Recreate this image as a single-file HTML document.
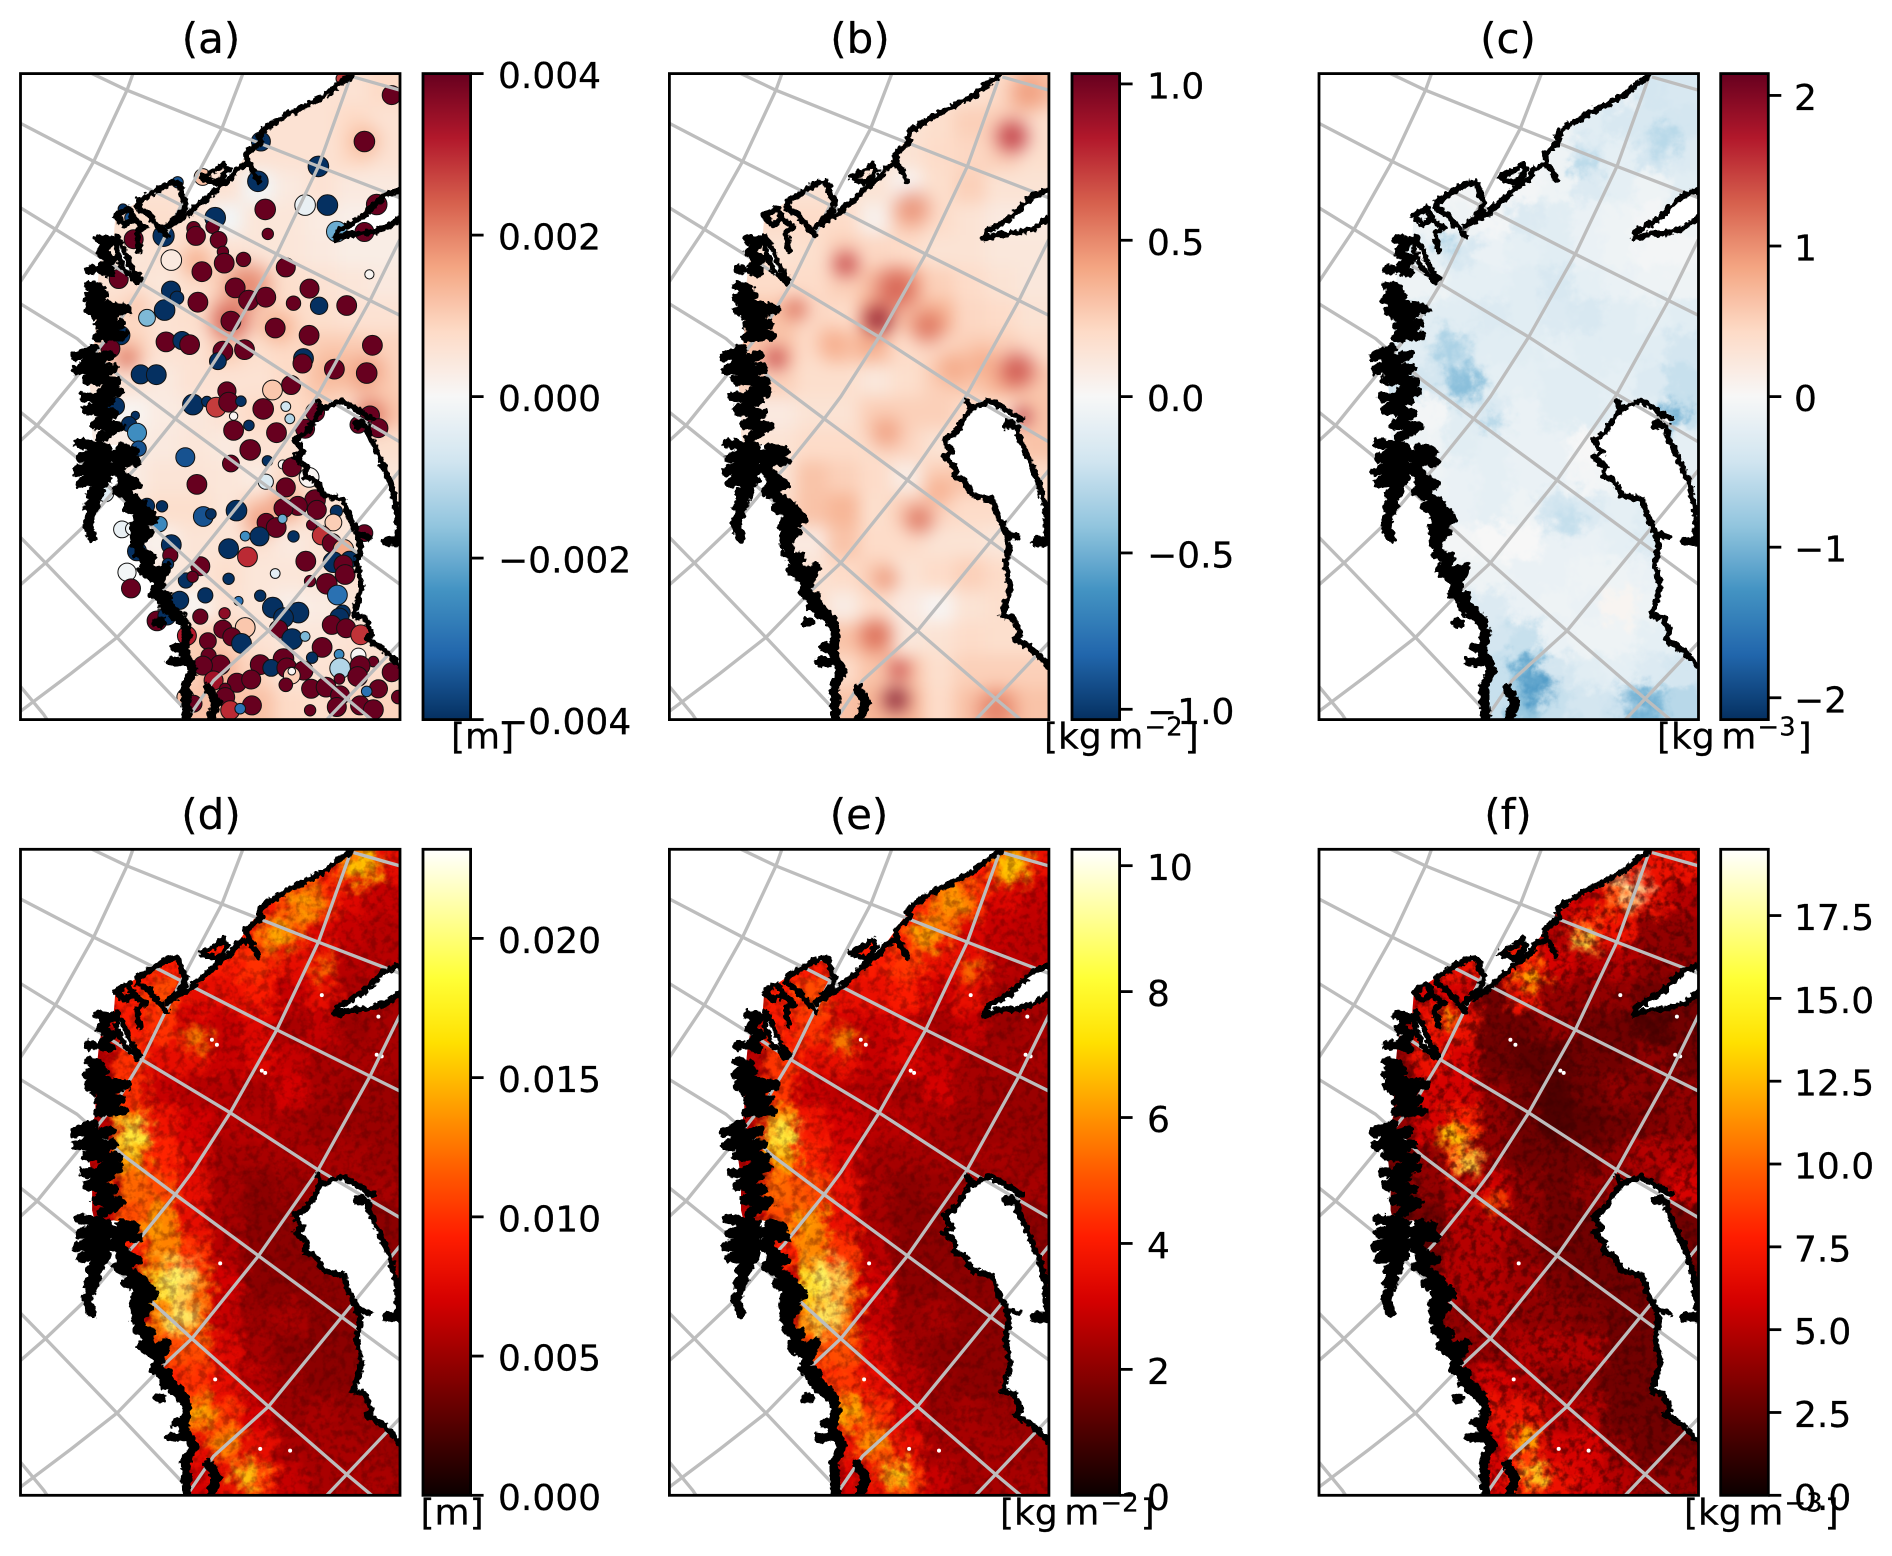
<!DOCTYPE html>
<html lang="en">
<head>
<meta charset="utf-8">
<title>Six-panel map of Norway fields</title>
<style>
html,body{margin:0;padding:0;background:#fff;}
svg{display:block;font-family:"DejaVu Sans","Liberation Sans",sans-serif;fill:#000;}
text{stroke:#000;stroke-width:.25;}
</style>
</head>
<body>
<svg id="figure" xmlns="http://www.w3.org/2000/svg" width="1892" height="1556" viewBox="0 0 1892 1556">
<defs>
<filter id="smooth" filterUnits="userSpaceOnUse" x="0" y="0" width="1892" height="1556" color-interpolation-filters="sRGB"><feGaussianBlur stdDeviation="8"/></filter>
<filter id="mottle" filterUnits="userSpaceOnUse" x="0" y="0" width="1892" height="1556" color-interpolation-filters="sRGB">
<feGaussianBlur stdDeviation="4.5" result="b"/>
<feTurbulence type="fractalNoise" baseFrequency="0.08" numOctaves="4" seed="4" result="n"/>
<feDisplacementMap in="b" in2="n" scale="30" xChannelSelector="R" yChannelSelector="G"/>
</filter>
<filter id="speckle" filterUnits="userSpaceOnUse" x="0" y="0" width="1892" height="1556" color-interpolation-filters="sRGB">
<feTurbulence type="fractalNoise" baseFrequency="0.13" numOctaves="3" seed="9"/>
<feColorMatrix type="matrix" values="0 0 0 0 0.25  0 0 0 0 0  0 0 0 0 0  3.6 0 0 0 -1.6"/>
</filter>
<filter id="rough" filterUnits="userSpaceOnUse" x="0" y="0" width="1892" height="1556">
<feTurbulence type="fractalNoise" baseFrequency="0.2" numOctaves="2" seed="2" result="n"/>
<feDisplacementMap in="SourceGraphic" in2="n" scale="7" xChannelSelector="R" yChannelSelector="G"/>
</filter>
</defs>
</svg>
<script>
// ---------- colormap stops ----------
const rdbuStops = ['#053061','#2166ac','#4393c3','#92c5de','#d1e5f0','#f7f7f7','#fddbc7','#f4a582','#d6604d','#b2182b','#67001f'];
const hotStops = ['#0b0000','#4e0000','#900000','#d40000','#ff1d00','#ff5a00','#ff9d00','#ffe000','#ffff36','#ffff9b','#ffffff'];

// ---------- panel (a): background field, 1e-3 m (rows north to south, columns west to east) ----------
const fieldA = [
[.6,.6,.6,.6,.6,.6,.6,.6,.6,.6,.6,.8],
[.6,.6,.6,.6,.6,.6,.6,.6,.6,.6,.8,.6],
[.6,.6,.6,.6,.6,.6,.6,.6,.6,.6,.8,.6],
[.6,.6,.6,.6,.6,.6,.6,-.1,.4,.6,.4,.4],
[.7,.7,.7,.7,.7,.6,-.1,.5,.5,.35,.25,.3],
[.5,.5,.5,.5,.6,.8,.6,.5,.5,.4,.3,.3],
[.6,.6,.6,.6,.5,.7,.9,.9,.7,.6,.5,.4],
[.8,.8,.8,.8,.6,.7,1.1,.9,.8,.7,.6,.6],
[1.0,1.0,1.0,1.0,.6,.6,1.0,.7,.8,1.0,1.0,.9],
[.6,.6,.6,.6,.4,.6,.6,.6,.8,1.1,1.0,.9],
[.1,.1,.1,.1,.35,.45,.6,.8,.8,.9,.7,1.1],
[.35,.35,.35,.35,.4,.5,.4,.6,.6,.4,.5,.7],
[.35,.35,.35,.35,.55,.55,.5,.35,.8,.7,.5,.5],
[.5,.5,.5,.5,.7,.7,.5,.9,.9,.6,.5,.5],
[.25,.25,.25,.25,.2,.55,.55,.6,.4,.55,.5,.5],
[.4,.4,.4,.4,.4,.5,.7,.5,.5,.55,.6,.6],
[.4,.4,.4,.4,.4,.1,.6,.5,.25,.35,.5,.5],
[1.0,1.0,1.0,1.0,1.0,1.0,1.0,.6,.5,.5,.6,.6],
[1.0,1.0,1.0,1.0,1.0,.9,1.0,.9,.5,.6,.7,.7],
[1.1,1.1,1.1,1.1,1.1,1.2,1.2,1.2,.8,.7,.9,.9]
];
const hotEastA = [630,680,530,1040,940,1033,775,1050,790,720,590,1100,350,320];
const hotSouthA = [745,640,570,905,890,205,765,1030,1300,1350,1800,950,700,860];
const hotValueA = [2.6,2.1,1.6,1.8,1.4,1.4,1.6,2.4,1.8,1.8,1.8,1.1,1.2,2.4];
const hotSpreadA = [60,70,45,60,60,50,50,50,50,50,50,45,35,35];
const ticksA = [4,2,0,-2,-4];
const tickLabelsA = ['0.004','0.002','0.000','\u22120.002','\u22120.004'];

// ---------- panel (a): station markers (map easting, map southing, size, value 1e-3 m) ----------
const stationEast = [965,1115,1033,722,895,547,713,472,308,855,922,735,1070,330,585,520,577,527,743,950,1033,340,430,595,608,453,670,612,797,545,1048,295,645,868,452,470,685,737,533,820,897,980,433,380,632,765,867,300,437,485,508,1057,608,673,593,850,847,943,1040,361,408,270,620,757,813,
285,345,326,350,355,518,560,588,625,662,729,797,640,809,686,640,769,885,855,1050,1015,1075,690,495,742,632,788,815,867,737,530,797,255,885,833,790,890,425,380,649,549,572,949,940,738,768,787,418,305,335,875,905,1033,675,718,820,935,625,350,453,450,682,970,857,940,988,970,975,320,540,443,497,517,765,625,870,920,332,952,478,555,655,720,758,835,968,790,958,613,540,935,410,440,978,675,608,635,775,1022,664,816,855,563,906,500,957,876,1015,565,790,1060,960,1020,600,548,720,753,800,850,1115,1013,815,815,580,650,693,958,797,873,918,1075,1040,960,615,615,695,495,630,520,870,950,1020,1060,1135,660];
const stationSouth = [15,65,205,205,280,312,325,328,408,397,397,410,395,435,435,467,462,490,484,477,478,500,490,502,538,563,561,572,585,598,606,620,647,649,655,677,684,675,690,693,701,700,714,737,747,768,790,790,810,806,818,820,838,833,868,860,875,892,904,908,909,830,958,955,940,
1004,1032,1058,1084,1132,999,990,1007,992,989,1012,1005,1034,1042,1062,1077,1084,1022,1072,1032,1060,1070,1136,1158,1169,1177,1180,1188,1219,1232,1240,1249,1267,1287,1305,1312,1317,1306,1305,1319,1337,1329,1321,1355,1355,1370,1344,1360,1376,1374,1362,1394,1387,1396,1397,1397,1417,1434,1442,1422,1454,1459,1437,1472,1475,1467,1482,1512,1505,1487,1480,1530,1519,1509,1525,1532,1540,1554,1574,1590,1575,1592,1576,1612,1627,1627,1642,1642,1629,1639,1664,1652,1637,1674,1672,1677,1700,1677,1694,1720,1707,1699,1713,1732,1697,1753,1763,1757,1757,1767,1775,1795,1787,1785,1787,1784,1794,1794,1802,1807,1820,1817,1804,1832,1839,1829,1827,1845,1857,1852,1857,1865,1877,1857,1882,1907,1882,1922,1902,1922,1912,1907,1920,1882,1917];
const stationSize = [15,25,27,25,27,22,27,15,13,27,27,27,27,15,27,18,18,25,15,27,25,25,28,22,15,27,19,26,25,26,12,25,26,25,25,18,26,26,26,19,23,26,27,22,26,26,26,25,26,24,26,26,26,26,22,26,25,26,27,25,26,25,24,26,25,
24,11,20,25,20,27,14,26,26,14,27,13,11,13,14,26,26,25,25,25,22,25,27,25,14,22,12,25,26,20,26,25,22,27,25,25,25,15,20,27,26,14,16,22,24,26,12,20,22,17,14,25,22,13,25,15,25,26,25,26,20,26,27,26,27,22,25,26,24,25,15,20,15,13,15,15,27,25,26,24,20,12,15,27,27,20,26,25,15,20,25,26,24,25,26,24,24,24,26,26,27,13,22,26,25,13,15,20,20,27,14,27,26,26,25,26,22,26,25,25,26,22,10,25,25,25,14,18,25,26,24,14,25,15,25,25,22,25,22,15,25,25,26,18,14];
const stationValue = [2.8,4,4,-4,-4,1.2,-4,-3.5,-4,-.3,-4,4,4,-3.5,-4,4,4,4,4,-2,4,4,-4,4,4,.4,4,4,4,4,.1,4,4,4,-4,-4,4,4,4,4,-4,4,-4,-1.8,4,4,4,-4,4,-4,4,4,4,4,-4,-4,4,4,4,-4,-4,4,4,1.1,4,
-4,-4,-4,-2.5,-3.5,-4,-4,2.8,4,-4,4,-.8,.1,-1.2,-4,4,4,4,4,4,4,4,4,-3.5,-4,4,.1,4,.1,-.6,4,4,-.5,4,4,4,4,-4,-4,-4,-3.5,-4,-4,1,4,4,-2,-2.6,-.3,-.2,4,2.9,4,-2.5,-4,-4,4,-4,-4,-4,4,3,1.5,4,-4,-4,4,4,-.1,4,-4,-4,4,-.4,-4,4,4,4,-3,-4,-4,-3,-4,-4,-4,-4,-4,-4,3.6,4,4,4,-4,4,1.1,4,4,4,2.9,-4,-4,-1.8,4,4,3.2,-2.6,-4,.05,4,4,4,-1.2,4,4,4,4,-4,4,4,4,4,1,.1,3.4,4,4,4,4,4,4,4,-3,4,4,4,4,1.3,3,4,4,4,4,4,4,-3];

// ---------- panel (b): field, kg m-2 ----------
const fieldB = [
[.15,.15,.15,.15,.15,.15,.15,.15,.15,.15,.2,.3],
[.15,.15,.15,.15,.15,.15,.15,.15,.18,.25,.25,.18],
[.15,.15,.15,.15,.15,.15,.15,.15,.2,.22,.25,.18],
[.15,.15,.15,.15,.15,.15,.15,.02,.18,.25,.15,.15],
[.2,.2,.2,.2,.2,.2,.05,.25,.2,.15,.1,.1],
[.15,.15,.15,.15,.18,.25,.22,.2,.15,.15,.12,.12],
[.2,.2,.2,.2,.2,.25,.3,.35,.25,.2,.15,.12],
[.3,.3,.3,.3,.22,.2,.4,.3,.35,.22,.2,.15],
[.3,.3,.3,.3,.2,.28,.3,.2,.22,.25,.25,.2],
[.25,.25,.25,.25,.18,.18,.12,.18,.25,.28,.35,.28],
[.1,.1,.1,.1,.15,.15,.25,.25,.25,.2,.2,.3],
[.15,.15,.15,.15,.2,.2,.18,.22,.15,.15,.2,.3],
[.15,.15,.15,.15,.3,.25,.2,.08,.25,.3,.2,.2],
[.2,.2,.2,.2,.3,.35,.18,.25,.22,.2,.2,.2],
[.1,.1,.1,.1,.1,.3,.2,.2,.15,.15,.12,.12],
[.15,.15,.15,.15,.15,.2,.25,.15,.2,.25,.2,.2],
[.2,.2,.2,.2,.2,.08,.2,.1,.02,.15,.18,.18],
[.3,.3,.3,.3,.3,.3,.35,.12,.15,.2,.18,.18],
[.2,.2,.2,.2,.2,.2,.3,.3,.18,.25,.25,.25],
[.3,.3,.3,.3,.3,.3,.35,.35,.2,.3,.35,.3]
];
const hotEastB = [1030,1075,730,530,680,625,775,380,490,600,1045,850,940,650,750,810,650,620,690,680,980,320,1060];
const hotSouthB = [190,60,405,575,650,745,765,710,815,815,895,890,870,1085,1345,1260,1525,1695,1800,1890,1920,860,1035];
const hotValueB = [.8,.45,.5,.75,.65,.95,.6,.62,.4,.42,.7,.42,.4,.45,.6,.4,.48,.62,.75,1.0,.55,.75,.85];
const hotSpreadB = [50,60,55,40,65,45,50,35,50,42,55,50,50,50,45,45,38,50,32,40,60,35,28];
const ticksB = [1,.5,0,-.5,-1];
const tickLabelsB = ['1.0','0.5','0.0','\u22120.5','\u22121.0'];

// ---------- panel (c): field, kg m-3 ----------
const fieldC = [
[-.15,-.15,-.15,-.15,-.15,-.15,-.15,-.15,-.15,-.15,-.4,-.35],
[-.1,-.1,-.1,-.1,-.1,-.1,-.1,-.1,-.25,-.35,-.35,-.4],
[-.1,-.1,-.1,-.1,-.1,-.1,-.1,-.1,-.35,-.2,-.4,-.3],
[-.05,-.05,-.05,-.05,-.05,-.05,-.05,-.1,-.3,-.2,-.1,-.25],
[-.1,-.1,-.1,-.1,-.1,-.05,-.3,-.25,-.15,-.1,-.05,-.1],
[-.2,-.2,-.2,-.2,-.35,-.15,-.2,-.25,-.15,-.1,-.05,-.05],
[-.1,-.1,-.1,-.1,-.2,-.2,-.25,-.35,-.2,-.15,-.1,-.1],
[-.25,-.25,-.25,-.25,-.25,-.3,-.25,-.3,-.35,-.25,-.2,-.25],
[-.25,-.25,-.25,-.25,-.4,-.25,-.25,-.2,-.25,-.25,-.25,-.4],
[-.4,-.4,-.4,-.4,-.6,-.2,-.2,-.25,-.25,-.2,-.3,-.5],
[-.05,-.05,-.05,-.05,-.25,-.3,-.15,-.25,-.25,-.2,-.25,-.5],
[-.1,-.1,-.1,-.1,-.25,-.2,-.15,-.15,0,-.1,-.2,-.2],
[-.1,-.1,-.1,-.1,-.15,-.2,-.15,-.15,-.05,-.1,-.2,-.2],
[-.15,-.15,-.15,-.15,-.15,-.2,-.1,-.4,-.3,-.2,-.25,-.25],
[-.05,-.05,-.05,-.05,-.05,0,0,-.15,-.15,-.2,-.3,-.2],
[-.1,-.1,-.1,-.1,-.1,-.1,-.15,-.15,-.1,-.1,-.15,-.15],
[-.3,-.3,-.3,-.3,-.3,-.3,-.15,-.1,-.15,.05,-.1,-.1],
[-.4,-.4,-.4,-.4,-.4,-.4,-.5,-.15,-.1,-.1,-.2,-.2],
[-.5,-.5,-.5,-.5,-.5,-.5,-.7,-.4,-.25,-.2,-.3,-.4],
[-.5,-.5,-.5,-.5,-.5,-.5,-.8,-.5,-.4,-.45,-.7,-.6]
];
const hotEastC = [440,390,1065,1040,625,650,970,750,800,520,385];
const hotSouthC = [940,830,1034,200,1793,1855,1905,1351,274,1058,510];
const hotValueC = [-.95,-.75,-1.1,-.65,-1.2,-1.3,-1.1,-.55,-.65,-.7,-.7];
const hotSpreadC = [55,55,40,48,38,50,60,45,35,30,30];
const ticksC = [2,1,0,-1,-2];
const tickLabelsC = ['2','1','0','\u22121','\u22122'];

// ---------- panel (d): field, 1e-3 m ----------
const fieldD = [
[9,9,9,9,9,9,9,9,9,9,12,8],
[9,9,9,9,9,9,9,9,9,10,7.5,6.5],
[9,9,9,9,9,9,9,9,11,7.5,6.5,6],
[9,9,9,9,9,9,9,10,8,8,6,6],
[9,9,9,9,11,8,8,9,6.5,8,5.5,5.5],
[6,6,6,9,10,7,6.5,7.5,5.5,6.5,5,5.5],
[6,6,6,10,8,8,6.5,7.5,6.5,5.5,5.5,5.5],
[6,6,6,10,6.5,6,6,5.5,7,5.5,5,5],
[6,6,6,13,8.5,7,6,6,5.5,5,5,5],
[6,6,6,14,9.5,7.5,5.5,5.5,5.5,5.5,5.5,5],
[6,6,6,12,11,8,5.5,4.5,5,5,5,5.5],
[6,6,6,11,13,8,5.5,4.5,4.5,4.5,4.5,4.5],
[6,6,6,9,13,10,6,4.5,4.5,4.5,4.5,4.5],
[6,6,6,6,15,12,7,4.5,4.5,4.5,4.5,4.5],
[6,6,6,6,13,12,6.5,5,5.5,4.5,4.5,4.5],
[10,10,10,10,11,11,7.5,5.5,4.5,4.5,4.5,4.5],
[9,9,9,9,9,10,8,6,5,4.5,4.5,4.5],
[10,10,10,10,10,11,10,7,5,5.5,5,5],
[8,8,8,8,8,8,10,8,5.5,5.5,5.5,5],
[7,7,7,7,7,7,8,10,6.5,5.5,5.5,5.5]
];
const hotEastD = [530,910,340,470,480,680,1030,850,770,540,620,400];
const hotSouthD = [575,360,860,1300,1410,1890,50,160,260,1700,1790,1130];
const hotValueD = [14,13,19,20,20,17,16,14.5,15,15,14,14];
const hotSpreadD = [40,35,50,65,55,45,55,65,55,50,50,40];
const ticksD = [20,15,10,5,0];
const tickLabelsD = ['0.020','0.015','0.010','0.005','0.000'];

// ---------- panel (e): field, kg m-2 ----------
const fieldE = [
[4,4,4,4,4,4,4,4,4,4,5.3,3.6],
[4,4,4,4,4,4,4,4,4,4.5,3.3,2.9],
[4,4,4,4,4,4,4,4,4.9,3.3,2.9,2.7],
[4,4,4,4,4,4,4,4.5,3.6,3.6,2.7,2.7],
[4,4,4,4,4.9,3.6,3.6,4,2.9,3.6,2.4,2.4],
[2.7,2.7,2.7,4,4.5,3.1,2.9,3.3,2.4,2.9,2.2,2.4],
[2.7,2.7,2.7,4.5,3.6,3.6,2.9,3.3,2.9,2.4,2.4,2.4],
[2.7,2.7,2.7,4.5,2.9,2.7,2.7,2.4,3.1,2.4,2.2,2.2],
[2.7,2.7,2.7,5.8,3.8,3.1,2.7,2.7,2.4,2.2,2.2,2.2],
[2.7,2.7,2.7,6.2,4.2,3.3,2.4,2.4,2.4,2.4,2.4,2.2],
[2.7,2.7,2.7,5.3,4.9,3.6,2.4,2,2.2,2.2,2.2,2.4],
[2.7,2.7,2.7,4.9,5.8,3.6,2.4,2,2,2,2,2],
[2.7,2.7,2.7,4,5.8,4.5,2.7,2,2,2,2,2],
[2.7,2.7,2.7,2.7,6.7,5.3,3.1,2,2,2,2,2],
[2.7,2.7,2.7,2.7,5.8,5.3,2.9,2.2,2.4,2,2,2],
[4.5,4.5,4.5,4.5,4.9,4.9,3.3,2.4,2,2,2,2],
[4,4,4,4,4,4.5,3.6,2.7,2.2,2,2,2],
[4.5,4.5,4.5,4.5,4.5,4.9,4.5,3.1,2.2,2.4,2.2,2.2],
[3.6,3.6,3.6,3.6,3.6,3.6,4.5,3.6,2.4,2.4,2.4,2.2],
[3.1,3.1,3.1,3.1,3.1,3.1,3.6,4.5,2.9,2.4,2.4,2.4]
];
const hotEastE = [530,910,340,470,480,680,1030,850,770,540,620,400];
const hotSouthE = [575,360,860,1300,1410,1890,50,160,260,1700,1790,1130];
const hotValueE = [6.2,5.8,8.4,8.8,8.8,7.5,7.1,6.4,6.6,6.6,6.2,6.2];
const hotSpreadE = [40,35,50,65,55,45,55,65,55,50,50,40];
const ticksE = [10,8,6,4,2,0];
const tickLabelsE = ['10','8','6','4','2','0'];

// ---------- panel (f): field, kg m-3 ----------
const fieldF = [
[6,6,6,6,6,6,6,6,6,7,7,7],
[6,6,6,6,6,6,6,6,6,9,7,5],
[6,6,6,6,6,6,6,5,8,7,4,4],
[7,7,7,7,7,7,8,6,5,5,4,4],
[6,6,6,6,6,3,7,4,4,4,3,3],
[4,4,4,7,7,3,3,4,3,3,2,3],
[4,4,4,7,6,3,2.5,2.5,3,3,4,3],
[4,4,4,6,6,4,3,2,3,4,3.5,4],
[4,4,4,6,8,4,3,2,2.5,3,3.5,4],
[3,3,3,4,8,4,3,3,3,4,5,5],
[3,3,3,4,5,6,4,3,4,4,4,6],
[3,3,3,3,5,5,4,3,3,3,3,3],
[3,3,3,3,5,5,4,3,3,3,3,3],
[4,4,4,4,5,5,4.5,3.5,3,3,3,3],
[4,4,4,4,4,5,4,4,3.5,3,3,3],
[4,4,4,4,4,4,5,5,5,3,3,3],
[5,5,5,5,5,6,5,4,4,3,3,3],
[6,6,6,6,6,7,7,5,5,3,3,3],
[6,6,6,6,6,6,8,6,6,4,3,3],
[5,5,5,5,5,6,8,7,6,5,4,4]
];
const hotEastF = [938,797,633,387,410,445,522,621,645];
const hotSouthF = [120,270,388,508,867,941,1068,1778,1883];
const hotValueF = [18,16,13,12.5,14,16,10,13,15];
const hotSpreadF = [55,40,40,30,45,40,30,40,40];
const ticksF = [17.5,15,12.5,10,7.5,5,2.5,0];
const tickLabelsF = ['17.5','15.0','12.5','10.0','7.5','5.0','2.5','0.0'];

// ---------- shared map geography, in map units (easting 0-1140, southing 0-1950) ----------
const landOutline = [[995,0],[1140,0],[1140,350],[1090,370],[1060,400],[1030,430],[990,455],[955,475],[945,500],[990,485],[1050,480],[1100,465],[1140,435],[1140,1410],[1135,1400],[1130,1312],[1110,1232],[1075,1152],[1045,1085],[1045,1065],[1060,1042],[1045,1037],[1000,1007],[965,987],[905,1012],[880,1050],[860,1082],[825,1107],[850,1142],[825,1157],[860,1187],[855,1217],[885,1227],[910,1272],[970,1287],[985,1332],[1010,1382],[1020,1422],[1010,1482],[1025,1552],[1000,1637],[1035,1642],[1055,1692],[1040,1707],[1090,1737],[1140,1790],[1140,1950],[500,1950],[495,1850],[520,1800],[490,1750],[500,1690],[490,1650],[440,1600],[405,1565],[440,1490],[400,1510],[370,1460],[345,1400],[350,1345],[395,1335],[345,1290],[305,1250],[300,1190],[340,1135],[280,1120],[225,1130],[215,1090],[215,1000],[200,880],[225,800],[225,700],[235,600],[250,510],[280,495],[285,430],[325,405],[355,385],[420,345],[478,332],[495,385],[440,462],[505,425],[555,380],[600,338],[650,285],[682,240],[715,190],[800,125],[915,65]];
const islandOutline = [[545,312],[590,290],[610,272],[622,290],[595,330],[560,320]];
const lakeEdge = [[905,1012],[880,1050],[860,1082],[825,1107],[850,1142],[825,1157],[860,1187],[855,1217],[885,1227],[910,1272],[970,1287],[985,1332],[1010,1382],[1020,1422],[1010,1482],[1025,1552],[1000,1637],[1035,1642],[1055,1692],[1040,1707],[1090,1737],[1140,1790]];
const thinCoast = [
[[995,0],[985,12],[960,28],[915,65],[860,95],[800,125],[760,150],[730,170],[715,190],[725,205],[700,225],[680,240],[682,268],[700,295],[715,325]],
[[682,275],[650,285],[632,315],[600,338],[578,358],[555,380],[530,400],[505,425],[470,445],[440,462],[490,412],[495,385],[482,362],[478,332],[455,328],[420,345],[390,365],[355,385],[352,405],[385,425],[405,450],[440,490]],
[[545,312],[590,290],[610,272],[622,290],[595,330],[560,320],[545,312]],
[[285,430],[325,405],[340,440],[310,455],[285,430]],
[[340,440],[375,465],[350,480],[358,535]],
[[1140,350],[1090,370],[1060,400],[1030,430],[990,455],[955,475],[945,500],[990,485],[1050,480],[1100,465],[1140,435]],
[[895,987],[905,1012],[965,987],[1000,1007],[1045,1037],[1060,1042]],
[[1045,1065],[1045,1085],[1075,1152],[1110,1232],[1130,1312],[1135,1400]],
lakeEdge,
[[1020,1390],[1050,1400]]
];
const thickCoast = [
[[235,500],[270,505],[240,540],[275,560],[240,590],[270,600]],
[[205,640],[240,650],[200,680],[250,670],[205,715],[260,700],[320,712]],
[[225,730],[290,720],[235,760],[300,755],[230,795],[310,790]],
[[165,855],[220,830],[200,870],[270,850],[170,895],[280,890],[200,925],[290,930],[240,965],[295,960]],
[[190,975],[270,985],[200,1015],[280,1025],[225,1060],[300,1065],[240,1100]],
[[175,1115],[260,1130],[180,1160],[290,1150],[170,1200],[280,1190],[180,1235],[260,1225],[210,1270],[240,1260],[205,1310],[225,1300],[200,1360],[215,1400]],
[[300,1130],[345,1140],[290,1170],[350,1170]],
[[285,1200],[350,1240],[290,1260],[365,1300],[320,1310],[400,1345],[340,1370],[385,1385],[345,1420]],
[[350,1450],[395,1460],[365,1500],[420,1540],[400,1570],[445,1580],[430,1610],[480,1650]],
[[300,1190],[305,1250],[345,1290],[395,1335],[350,1345],[345,1400],[370,1460],[400,1510],[440,1490],[405,1565],[440,1600],[490,1650],[500,1690],[490,1750],[520,1800],[495,1850],[500,1950]],
[[450,1775],[490,1775]],
[[565,1855],[590,1900],[570,1950]],
[[1100,1412],[1140,1412]],
[[205,592],[216,592]],
[[412,1657],[422,1657]],
[[466,1732],[474,1732]],
[[1012,1060],[1026,1058]]
];
const fjordRing = [[290,490],[310,530],[335,590],[360,620],[350,630],[310,590],[290,540],[285,500],[290,490]];
const meridians = [
[[338,0],[320,50],[220,265],[105,470],[0,628]],
[[668,0],[605,165],[510,345],[440,480],[365,635],[290,760],[165,920],[120,975],[50,1062],[0,1108]],
[[995,0],[895,280],[770,545],[630,795],[515,975],[465,1042],[345,1192],[270,1272],[195,1362],[75,1477],[0,1543]],
[[1140,500],[1050,685],[890,975],[715,1227],[515,1477],[430,1557],[290,1702],[150,1812],[0,1925]],
[[1140,1197],[965,1412],[745,1682],[580,1832],[500,1950]],
[[1140,1717],[980,1887],[920,1950]]
];
const parallels = [
[[1000,10],[1140,50]],
[[215,0],[320,50],[605,165],[895,280],[1140,375]],
[[0,150],[220,265],[430,370],[770,545],[1050,685],[1140,730]],
[[0,405],[105,470],[265,570],[365,635],[630,795],[890,965],[1140,1112]],
[[0,695],[170,800],[310,925],[465,1042],[715,1227],[965,1412],[1140,1542]],
[[0,1022],[50,1062],[160,1152],[345,1321],[515,1477],[745,1682],[980,1887],[1055,1950]],
[[0,1400],[75,1477],[290,1702],[495,1920],[510,1950]],
[[0,1850],[70,1935],[80,1950]]
];
const voidEast = [575,590,725,735,1070,1085,1075,905,1000,585,720,810,600];
const voidSouth = [575,590,668,675,620,625,505,440,450,1600,1810,1815,1250];

// ---------- axes helpers ----------
const MAP_W = 1140, MAP_H = 1950;
const NS = 'http://www.w3.org/2000/svg';
const svg = document.getElementById('figure');
function make(tag, attrs, parent){
  const el = document.createElementNS(NS, tag);
  for(const k in attrs) el.setAttribute(k, attrs[k]);
  parent.appendChild(el);
  return el;
}
function hexRgb(h){return [parseInt(h.substr(1,2),16),parseInt(h.substr(3,2),16),parseInt(h.substr(5,2),16)];}
function colorOf(stops, t){
  t = Math.max(0, Math.min(1, t));
  const p = t*(stops.length-1), i = Math.min(stops.length-2, Math.floor(p)), f = p-i;
  const a = hexRgb(stops[i]), b = hexRgb(stops[i+1]);
  return 'rgb('+a.map((v,j)=>Math.round(v+(b[j]-v)*f)).join(',')+')';
}
function pathOf(points, sx, sy, close){
  return points.map((p,i)=>(i?'L':'M')+sx(p[0]).toFixed(1)+' '+sy(p[1]).toFixed(1)).join('')+(close?'Z':'');
}

const panels = [
 {key:'a',x:20.5,y:73.6,cx:423,title:'(a)',tx:211,field:fieldA,hotE:hotEastA,hotS:hotSouthA,hotV:hotValueA,hotR:hotSpreadA,stops:rdbuStops,vmin:-4.0,vmax:4.0,ticks:ticksA,labels:tickLabelsA,lx:498,unit:'[m]',ux:451,filter:'smooth'},
 {key:'b',x:669.4,y:73.6,cx:1072,title:'(b)',tx:860,field:fieldB,hotE:hotEastB,hotS:hotSouthB,hotV:hotValueB,hotR:hotSpreadB,stops:rdbuStops,vmin:-1.033,vmax:1.033,ticks:ticksB,labels:tickLabelsB,lx:1147,unit:'[kg m',sup:'\u22122',ux:1044,filter:'smooth'},
 {key:'c',x:1319,y:73.6,cx:1720.7,title:'(c)',tx:1508,field:fieldC,hotE:hotEastC,hotS:hotSouthC,hotV:hotValueC,hotR:hotSpreadC,stops:rdbuStops,vmin:-2.145,vmax:2.145,ticks:ticksC,labels:tickLabelsC,lx:1794,unit:'[kg m',sup:'\u22123',ux:1657,filter:'mottle'},
 {key:'d',x:20.5,y:849.3,cx:423,title:'(d)',tx:211,field:fieldD,hotE:hotEastD,hotS:hotSouthD,hotV:hotValueD,hotR:hotSpreadD,stops:hotStops,vmin:0,vmax:23.2,ticks:ticksD,labels:tickLabelsD,lx:498,unit:'[m]',ux:420.5,filter:'mottle',speck:true},
 {key:'e',x:669.4,y:849.3,cx:1072,title:'(e)',tx:859,field:fieldE,hotE:hotEastE,hotS:hotSouthE,hotV:hotValueE,hotR:hotSpreadE,stops:hotStops,vmin:0,vmax:10.26,ticks:ticksE,labels:tickLabelsE,lx:1147,unit:'[kg m',sup:'\u22122',ux:1000,filter:'mottle',speck:true},
 {key:'f',x:1319,y:849.3,cx:1720.7,title:'(f)',tx:1508,field:fieldF,hotE:hotEastF,hotS:hotSouthF,hotV:hotValueF,hotR:hotSpreadF,stops:hotStops,vmin:0,vmax:19.5,ticks:ticksF,labels:tickLabelsF,lx:1794,unit:'[kg m',sup:'\u22123',ux:1684,filter:'mottle',speck:true}
];
const AX_W = 379.5, AX_H = 646, CB_W = 47.6;

panels.forEach(function(p){
  const sx = u => p.x + u/MAP_W*AX_W;
  const sy = v => p.y + v/MAP_H*AX_H;
  const defs = svg.querySelector('defs');
  const axClip = make('clipPath',{id:'ax-'+p.key},defs);
  make('rect',{x:p.x,y:p.y,width:AX_W,height:AX_H},axClip);
  const landClip = make('clipPath',{id:'land-'+p.key},defs);
  make('path',{d:pathOf(landOutline,sx,sy,true)+pathOf(islandOutline,sx,sy,true)},landClip);

  const group = make('g',{},svg);
  
  

  const title = make('text',{x:p.tx,y:p.y-20.5,'font-size':42,'text-anchor':'middle'},group);
  
  
  title.textContent = p.title;

  const mapArea = make('g',{'clip-path':'url(#ax-'+p.key+')'},group);
  
  

  // heatmap, clipped to land
  const landG = make('g',{'clip-path':'url(#land-'+p.key+')'},mapArea);
  
  
  const cellG = make('g',{filter:'url(#'+p.filter+')'},landG);
  
  
  const rows = p.field.length, cols = p.field[0].length;
  p.field.forEach(function(row,r){
    row.forEach(function(v,c){
      const x0 = sx(c*MAP_W/cols), x1 = sx((c+1)*MAP_W/cols);
      const y0 = sy(r*MAP_H/rows), y1 = sy((r+1)*MAP_H/rows);
      const left = c===0 ? x0-40 : x0, right = c===cols-1 ? x1+40 : x1+1;
      const top = r===0 ? y0-40 : y0, bottom = r===rows-1 ? y1+40 : y1+1;
      const cell = make('rect',{x:left.toFixed(1),y:top.toFixed(1),width:(right-left).toFixed(1),height:(bottom-top).toFixed(1),fill:colorOf(p.stops,(v-p.vmin)/(p.vmax-p.vmin)),'shape-rendering':'crispEdges'},cellG);
      
      
    });
  });

  // local maxima of the field
  p.hotE.forEach(function(e,i){
    const col = colorOf(p.stops,(p.hotV[i]-p.vmin)/(p.vmax-p.vmin));
    const gr = make('radialGradient',{id:'hot-'+p.key+'-'+i},defs);
    make('stop',{offset:0,'stop-color':col,'stop-opacity':1},gr);
    make('stop',{offset:.45,'stop-color':col,'stop-opacity':.65},gr);
    make('stop',{offset:1,'stop-color':col,'stop-opacity':0},gr);
    const spot = make('circle',{cx:sx(e).toFixed(1),cy:sy(p.hotS[i]).toFixed(1),r:(p.hotR[i]/3*1.35).toFixed(1),fill:'url(#hot-'+p.key+'-'+i+')'},cellG);
    
    
  });

  if(p.speck){
    const sp = make('rect',{x:p.x,y:p.y,width:AX_W,height:AX_H,filter:'url(#speckle)',opacity:p.key==='f'?0.6:0.32},landG);
    
    
    voidEast.forEach(function(e,i){
      const hole = make('circle',{cx:sx(e).toFixed(1),cy:sy(voidSouth[i]).toFixed(1),r:2,fill:'#fff'},landG);
      
      
    });
  }

  // station markers (panel a only)
  if(p.key==='a'){
    const stG = make('g',{},mapArea);
    
    
    stationEast.forEach(function(e,i){
      const v = stationValue[i];
      const m = make('circle',{cx:sx(e).toFixed(1),cy:sy(stationSouth[i]).toFixed(1),r:(stationSize[i]/3*1.14).toFixed(1),fill:colorOf(p.stops,(v-p.vmin)/(p.vmax-p.vmin)),stroke:'#111','stroke-width':1},stG);
      
      
    });
  }

  // graticule
  const gridG = make('g',{fill:'none',stroke:'#bdbdbd','stroke-width':3.3,'stroke-linejoin':'round'},mapArea);
  
  
  meridians.forEach(function(line){
    const l = make('path',{d:pathOf(line,sx,sy,false)},gridG);
    
    
  });
  parallels.forEach(function(line){
    const l = make('path',{d:pathOf(line,sx,sy,false)},gridG);
    
    
  });

  // coastline
  const coastG = make('g',{fill:'none',stroke:'#000','stroke-linejoin':'round','stroke-linecap':'round',filter:'url(#rough)'},mapArea);
  
  
  const ring = make('path',{d:pathOf(fjordRing,sx,sy,true),fill:'#fff','stroke-width':5.5},coastG);
  
  
  thinCoast.forEach(function(line){
    const l = make('path',{d:pathOf(line,sx,sy,false),'stroke-width':6},coastG);
    
    
  });
  thickCoast.forEach(function(line){
    const l = make('path',{d:pathOf(line,sx,sy,false),'stroke-width':10},coastG);
    
    
  });

  // axes frame
  const frame = make('rect',{x:p.x,y:p.y,width:AX_W,height:AX_H,fill:'none',stroke:'#000','stroke-width':2.8},group);
  
  

  // colourbar
  const cbY = v => p.y + AX_H*(1-(v-p.vmin)/(p.vmax-p.vmin));
  const grad = make('linearGradient',{id:'grad-'+p.key,x1:0,y1:1,x2:0,y2:0},defs);
  for(let i=0;i<=40;i++){
    make('stop',{offset:(i/40),'stop-color':colorOf(p.stops,i/40)},grad);
  }
  const cbG = make('g',{},group);
  
  
  const bar = make('rect',{x:p.cx,y:p.y,width:CB_W,height:AX_H,fill:'url(#grad-'+p.key+')',stroke:'#000','stroke-width':2.8},cbG);
  
  
  p.ticks.forEach(function(t,i){
    const y = cbY(t);
    const tick = make('line',{x1:p.cx+CB_W,x2:p.cx+CB_W+13,y1:y,y2:y,stroke:'#000','stroke-width':2.8},cbG);
    
    
    const lab = make('text',{x:p.lx,y:(y+14.5).toFixed(1),'font-size':36},cbG);
    
    
    lab.textContent = p.labels[i];
  });

  // unit label
  const unit = make('text',{x:p.ux,y:p.y+AX_H+29,'font-size':36,'xml:space':'preserve'},group);
  
  
  if(p.sup){
    const a = make('tspan',{},unit); a.textContent = '[kg';
    const b = make('tspan',{dx:6.5},unit); b.textContent = 'm';
    const s = make('tspan',{dy:-13,'font-size':26,dx:1},unit); s.textContent = p.sup;
    const e = make('tspan',{dy:13,dx:2},unit); e.textContent = ']';
  } else {
    unit.textContent = p.unit;
  }
});
</script>
</body>
</html>
